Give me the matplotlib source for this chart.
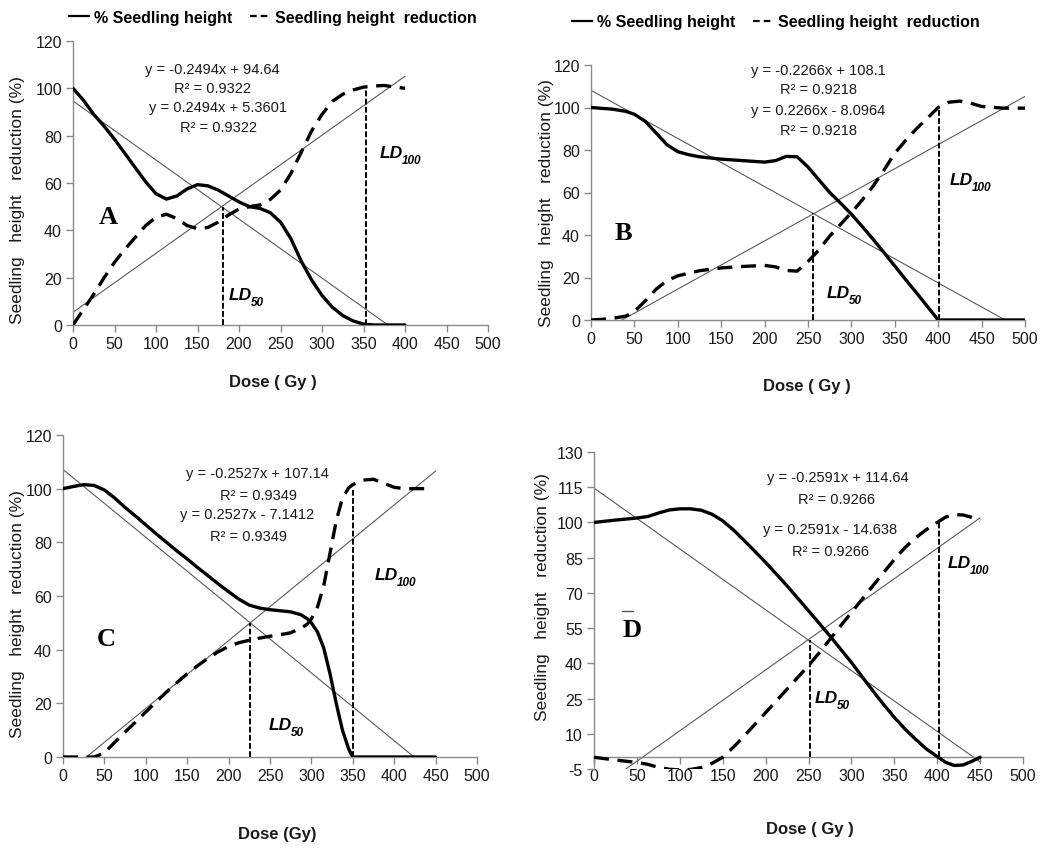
import matplotlib
matplotlib.use("Agg")
import matplotlib.pyplot as plt
from matplotlib.lines import Line2D

W, H = 1049, 853
FONT = ["Liberation Sans", "DejaVu Sans"]
plt.rcParams["font.family"] = FONT
plt.rcParams["axes.unicode_minus"] = False

# ---- data (dose in Gy, values in %) ----
doseA = [0, 12.5, 25, 37.5, 50, 62.5, 75, 87.5, 100, 112.5, 125, 137.5, 150, 162.5, 175, 187.5,
         200, 212.5, 225, 237.5, 250, 262.5, 275, 287.5, 300, 312.5, 325, 337.5, 350, 362.5, 375, 400]
heightA = [100, 95, 89, 84, 78.5, 72.5, 66.5, 60.5, 55.5, 53.2, 54.5, 57.5, 59.3, 58.8, 57, 54.5,
           52, 50, 49.3, 47.5, 43.5, 36.5, 27, 19, 12.5, 7.5, 4, 1.7, 0.4, 0, 0, 0]
reductionA = [0, 6.5, 13, 20, 26.5, 32, 37, 42, 45.5, 46.8, 45, 42, 40.7, 41.2, 43.5, 46.5,
              49, 50, 50.7, 53, 57, 64, 73, 82, 89, 94.5, 97.5, 99.3, 100.5, 101, 101.2, 100]

doseB = [0, 12.5, 25, 40, 50, 62.5, 75, 87.5, 100, 112.5, 125, 150, 175, 200, 212.5, 225, 237.5,
         250, 262.5, 275, 287.5, 300, 312.5, 325, 337.5, 350, 362.5, 375, 387.5, 400, 412.5, 425,
         437.5, 450, 475, 500]
heightB = [100, 99.6, 99.2, 98.2, 96.8, 93.5, 88, 82.5, 79.2, 77.8, 76.8, 75.7, 75, 74.3, 75, 77,
           76.8, 72, 66, 60, 55, 49.8, 44, 38, 31.7, 25.4, 19, 12.8, 6.4, 0, 0, 0,
           0, 0, 0, 0]
reductionB = [0, 0.3, 0.8, 1.8, 4, 9, 14.5, 18.5, 20.8, 22, 23.2, 24.5, 25.2, 25.7, 25, 23.3,
              23, 27.5, 33, 39.5, 45, 50.5, 56.5, 63, 70.5, 78.5, 84.5, 90, 95, 100, 102.5, 103,
              102, 100.5, 99.7, 99.7]

doseC = [0, 12.5, 25, 37.5, 50, 62.5, 75, 87.5, 100, 112.5, 125, 137.5, 150, 162.5, 175, 187.5,
         200, 212.5, 225, 237.5, 250, 262.5, 275, 287.5, 295, 300, 307.5, 315, 322.5, 330, 337.5,
         345, 350, 362.5, 375, 387.5, 400, 412.5, 425, 440, 450]
heightC = [100, 100.8, 101.5, 101.2, 99.5, 96.5, 93, 89.8, 86.5, 83.2, 80, 76.8, 73.8, 70.6, 67.6,
           64.5, 61.6, 58.8, 56.6, 55.5, 54.9, 54.5, 54.1, 53, 51.5, 50, 46.5, 40.5, 31, 20, 10,
           3, 0, 0, 0, 0, 0, 0, 0, 0, 0]
reductionC = [0, 0, 0, 0, 1.5, 5.5, 9.3, 13, 16.8, 20.5, 24.2, 27.7, 31, 34, 36.8, 39.2,
              41.2, 42.6, 43.5, 44.3, 45, 45.6, 46.3, 48, 49.5, 51.5, 56, 64, 76, 88, 96.5,
              100.3, 101.5, 103.2, 103.5, 102, 100.5, 100, 100, 100, None]

doseD = [0, 25, 50, 62.5, 75, 87.5, 100, 112.5, 125, 137.5, 150, 162.5, 175, 187.5, 200, 212.5,
         225, 237.5, 250, 262.5, 275, 287.5, 300, 312.5, 325, 337.5, 350, 362.5, 375, 387.5, 400,
         410, 420, 430, 440, 450]
heightD = [100, 101, 101.9, 102.5, 104, 105.3, 105.8, 105.8, 105.2, 103.5, 100.7, 96.8, 92.3, 87.7,
           83, 78, 73, 67.7, 62.4, 57, 51.7, 46, 40.4, 34.3, 28.3, 22.5, 17, 12, 7.6, 3.5, 0.3,
           -2.2, -3.5, -3.3, -1.8, 0]
reductionD = [0, -1.2, -2.2, -3, -4.3, -5.1, -5.4, -5.2, -4.4, -2.6, 0, 4.3, 9, 14, 19, 24,
              29, 34, 39, 44.5, 50.2, 56, 61.6, 67.3, 73, 78.7, 84.2, 89.3, 93.5, 97, 100,
              102.3, 103.3, 103.2, 102.2, 100.6]

# linear trend lines (slope, intercept) as printed on each panel
trendA = [(-0.2494, 94.64), (0.2494, 5.3601)]
trendB = [(-0.2266, 108.1), (0.2266, -8.0964)]
trendC = [(-0.2527, 107.14), (0.2527, -7.1412)]
trendD = [(-0.2591, 114.64), (0.2591, -14.638)]
eqA = ["y = -0.2494x + 94.64", "R² = 0.9322", "y = 0.2494x + 5.3601", "R² = 0.9322"]
eqB = ["y = -0.2266x + 108.1", "R² = 0.9218", "y = 0.2266x - 8.0964", "R² = 0.9218"]
eqC = ["y = -0.2527x + 107.14", "R² = 0.9349", "y = 0.2527x - 7.1412", "R² = 0.9349"]
eqD = ["y = -0.2591x + 114.64", "R² = 0.9266", "y = 0.2591x - 14.638", "R² = 0.9266"]

# LD markers: (dose, top of the dropped line)
ldA = [(181, 50), (353, 100.5)]
ldB = [(256, 50.5), (401, 100)]
ldC = [(225.5, 50), (350, 100)]
ldD = [(251.5, 50), (402, 100)]

xticks = list(range(0, 501, 50))
yticks_abc = list(range(0, 121, 20))
yticks_d = list(range(-5, 131, 15))


def fx(x):
    return x / W


def fy(y):
    return 1 - y / H


fig = plt.figure(figsize=(W / 100, H / 100), dpi=100)

panels = [
    dict(box=(73, 488, 42, 326), dose=doseA, h=heightA, r=reductionA, trend=trendA, ld=ldA,
         yt=yticks_abc, ylim=(0, 120), letter=("A", 108, 217),
         eq=eqA, eqpos=[(212, 70), (212, 89), (218, 108), (218, 128)],
         ld50=(229, 300), ld100=(380, 158), ylab=(18, 200), xlab=("Dose ( Gy )", 273, 383)),
    dict(box=(591, 1025, 66, 321), dose=doseB, h=heightB, r=reductionB, trend=trendB, ld=ldB,
         yt=yticks_abc, ylim=(0, 120), letter=("B", 623, 233),
         eq=eqB, eqpos=[(818, 71), (818, 90), (818, 111), (818, 131)],
         ld50=(827, 298), ld100=(950, 185), ylab=(546, 203), xlab=("Dose ( Gy )", 807, 387)),
    dict(box=(63, 477, 436, 758), dose=doseC, h=heightC, r=reductionC, trend=trendC, ld=ldC,
         yt=yticks_abc, ylim=(0, 120), letter=("C", 106, 640),
         eq=eqC, eqpos=[(257, 474), (258, 496), (247, 515), (248, 537)],
         ld50=(269, 730), ld100=(375, 580), ylab=(18, 614), xlab=("Dose (Gy)", 277, 835)),
    dict(box=(594, 1023, 453, 770), dose=doseD, h=heightD, r=reductionD, trend=trendD, ld=ldD,
         yt=yticks_d, ylim=(-5, 130), letter=("D", 632, 631),
         eq=eqD, eqpos=[(838, 478), (837, 500), (830, 530), (830, 552)],
         ld50=(815, 703), ld100=(948, 568), ylab=(543, 597), xlab=("Dose ( Gy )", 810, 830)),
]

AXIS_C = "#8a8a8a"
TXT_C = "#1a1a1a"

for p in panels:
    x0, x1, yt, yb = p["box"]
    ax = fig.add_axes([fx(x0), fy(yb), (x1 - x0) / W, (yb - yt) / H])
    ax.set_xlim(0, 500)
    ax.set_ylim(*p["ylim"])
    ax.set_xticks(xticks)
    ax.set_yticks(p["yt"])
    for s in ("top", "right"):
        ax.spines[s].set_visible(False)
    for s in ("left", "bottom"):
        ax.spines[s].set_color(AXIS_C)
        ax.spines[s].set_linewidth(1.0)
    if p["ylim"][0] < 0:
        ax.spines["bottom"].set_position(("data", 0))
    ax.tick_params(direction="out", length=5, width=1.0, color=AXIS_C,
                   labelsize=11.5, labelcolor=TXT_C, pad=3)

    # trend lines over the data range, clipped by the axes
    xmin, xmax = p["dose"][0], p["dose"][-1]
    for slope, icpt in p["trend"]:
        ax.plot([xmin, xmax], [slope * xmin + icpt, slope * xmax + icpt],
                color="#5a5a5a", lw=0.8, zorder=2)

    # LD drop lines
    for d, top in p["ld"]:
        ax.plot([d, d], [0, top], color="black", lw=1.4, ls=(0, (3, 1.2)), zorder=3)

    ax.plot(p["dose"], p["h"], color="black", lw=2.4, solid_joinstyle="round",
            solid_capstyle="round", zorder=4)
    rd = [d for d, v in zip(p["dose"], p["r"]) if v is not None]
    rv = [v for v in p["r"] if v is not None]
    ax.plot(rd, rv, color="black", lw=2.4, ls=(0, (4.5, 2.6)), dash_capstyle="butt",
            zorder=4)

    # equation labels
    for txt, (cx, cy) in zip(p["eq"], p["eqpos"]):
        fig.text(fx(cx), fy(cy), txt, ha="center", va="center", fontsize=10.5, color=TXT_C)

    # panel letter
    L, lx, ly = p["letter"]
    fig.text(fx(lx), fy(ly), L, ha="center", va="center", fontsize=19, fontweight="bold",
             family=["Liberation Serif", "DejaVu Serif"])

    # LD labels with subscripts
    for (lx, ly), sub in ((p["ld50"], "50"), (p["ld100"], "100")):
        t = fig.text(fx(lx), fy(ly), "LD", ha="left", va="baseline", fontsize=12.5,
                     fontweight="bold", fontstyle="italic")
        ax.annotate(sub, xy=(1.0, 0.0), xycoords=t, xytext=(-1.2, -2.5),
                    textcoords="offset points", ha="left", va="baseline",
                    fontsize=8.5, fontweight="bold", fontstyle="italic")

    # axis titles
    yx, yy = p["ylab"]
    fig.text(fx(yx), fy(yy), "Seedling   height   reduction (%)", rotation=90,
             ha="center", va="center", fontsize=12.5, color=TXT_C)
    xt, xx, xy = p["xlab"]
    fig.text(fx(xx), fy(xy), xt, ha="center", va="center", fontsize=12, fontweight="bold",
             color=TXT_C)

# small stray bar above the D letter
fig.add_artist(Line2D([fx(622), fx(633)], [fy(612), fy(612)], color="#555555", lw=1.0))

# legends for the top two panels
handles = [Line2D([], [], color="black", lw=1.6),
           Line2D([], [], color="black", lw=1.6, ls=(0, (3, 1.8)))]
labels = ["% Seedling height", "Seedling height  reduction"]
for cx, cy in ((273, 18), (776, 23)):
    fig.legend(handles, labels, loc="center", bbox_to_anchor=(fx(cx), fy(cy)),
               bbox_transform=fig.transFigure, ncol=2, frameon=False,
               handlelength=1.2, handletextpad=0.35, columnspacing=1.1,
               prop=dict(family=FONT, weight="bold", size=11.5))

fig.savefig("out.png", dpi=100, facecolor="white")
